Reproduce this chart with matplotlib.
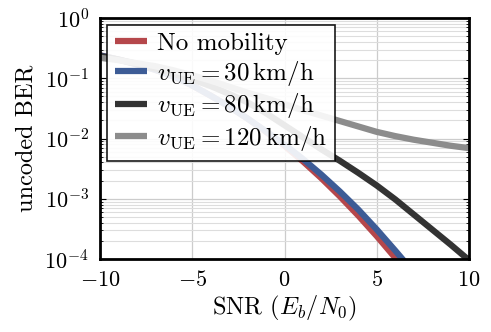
import numpy as np
import matplotlib
matplotlib.use('Agg')
import matplotlib.pyplot as plt

snr = [-10, -9, -8, -7, -6, -5, -4, -3, -2, -1, 0, 1, 2, 3, 4, 5, 6, 7, 8, 9, 10]
ber_static = [-0.62, -0.69, -0.77, -0.86, -0.97, -1.12, -1.29, -1.47, -1.67, -1.89, -2.12,
              -2.38, -2.66, -2.96, -3.28, -3.62, -3.98, -4.34, -4.70, -5.06, -5.42]
ber_30 = [-0.62, -0.69, -0.77, -0.86, -0.97, -1.12, -1.29, -1.47, -1.67, -1.88, -2.10,
          -2.34, -2.60, -2.88, -3.18, -3.51, -3.86, -4.22, -4.58, -4.94, -5.30]
ber_80 = [-0.63, -0.69, -0.76, -0.84, -0.93, -1.02, -1.13, -1.26, -1.40, -1.58, -1.78,
          -1.98, -2.18, -2.37, -2.57, -2.78, -3.01, -3.26, -3.51, -3.76, -4.02]
ber_120 = [-0.66, -0.70, -0.75, -0.80, -0.87, -0.95, -1.04, -1.14, -1.24, -1.33, -1.43,
           -1.53, -1.62, -1.71, -1.80, -1.89, -1.96, -2.02, -2.07, -2.12, -2.16]

labels = ['No mobility',
          r'$v_{\mathrm{UE}} = 30\,\mathrm{km/h}$',
          r'$v_{\mathrm{UE}} = 80\,\mathrm{km/h}$',
          r'$v_{\mathrm{UE}} = 120\,\mathrm{km/h}$']
colors = ['#b5474b', '#3d5c96', '#333333', '#8c8c8c']

plt.rcParams['font.family'] = 'serif'
plt.rcParams['font.serif'] = ['cmr10']
plt.rcParams['mathtext.fontset'] = 'cm'
plt.rcParams['axes.formatter.use_mathtext'] = True

fig = plt.figure(figsize=(4.91, 3.32), dpi=100)
ax = fig.add_axes([100 / 491, 1 - 259 / 332, 369 / 491, 241 / 332])

for ys, c, lab in zip([ber_static, ber_30, ber_80, ber_120], colors, labels):
    ax.semilogy(snr, 10 ** np.array(ys), color=c, lw=4.5, label=lab, solid_capstyle='butt')

ax.set_xlim(-10, 10)
ax.set_ylim(1e-4, 1)
ax.set_xticks([-10, -5, 0, 5, 10])
ax.grid(True, which='major', color='#cccccc', lw=0.9)
ax.grid(True, which='minor', axis='y', color='#dddddd', lw=0.8)
ax.tick_params(which='both', direction='in', left=True, right=True, top=False, bottom=False,
               labelsize=16)
ax.tick_params(axis='x', pad=8)
ax.tick_params(axis='y', pad=8)
ax.tick_params(which='major', length=4)
ax.tick_params(which='minor', length=2)
for s in ax.spines.values():
    s.set_linewidth(2)

ax.set_xlabel(r'SNR ($E_b/N_0$)', fontsize=17.5, labelpad=3)
ax.set_ylabel('uncoded BER', fontsize=17.5, labelpad=5)

leg = ax.legend(loc='upper left', bbox_to_anchor=(0.019, 0.971), borderaxespad=0,
                fancybox=False, framealpha=0.9, edgecolor='black', fontsize=18,
                handlelength=1.3, handletextpad=0.4, labelspacing=0.15, borderpad=0.3)
leg.get_frame().set_linewidth(1.2)

fig.savefig('out.png', dpi=100)
